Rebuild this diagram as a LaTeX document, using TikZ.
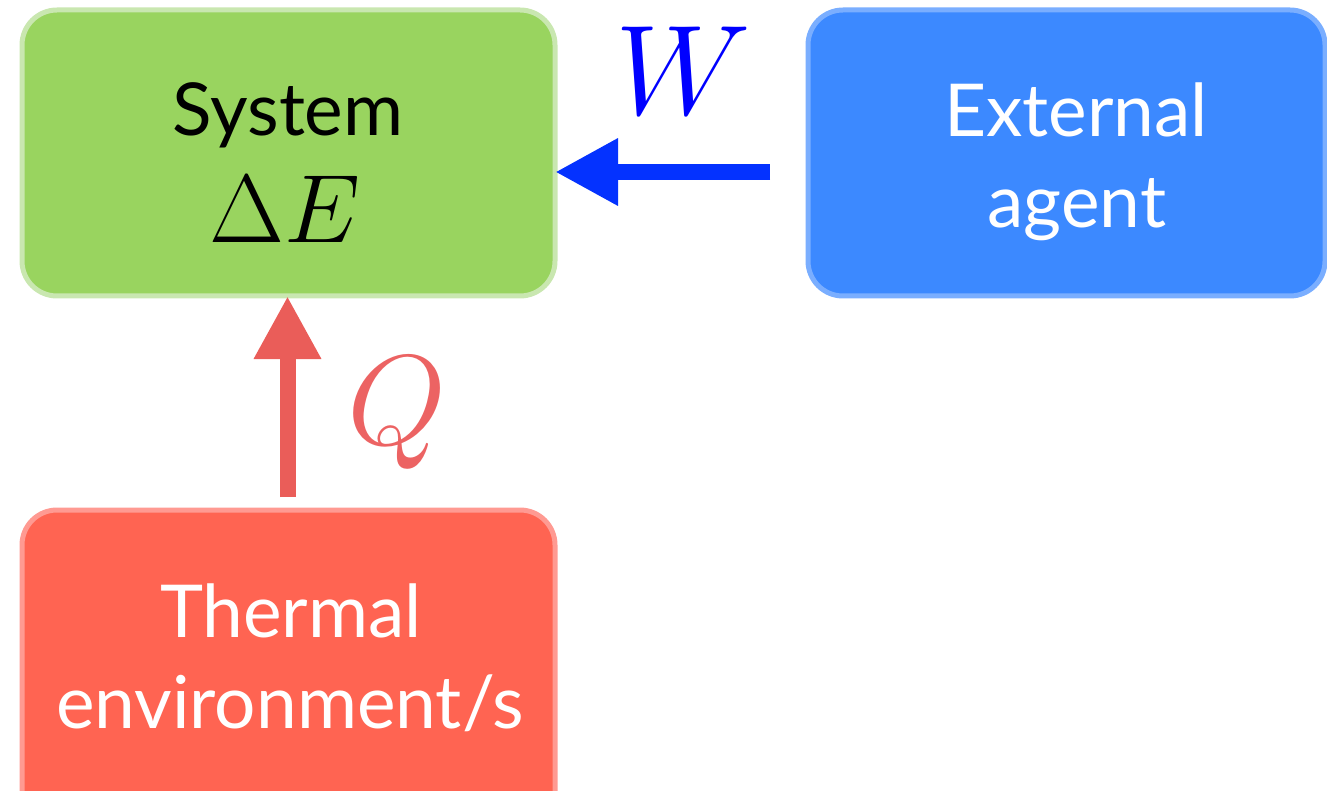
\RequirePackage{fix-cm}
\documentclass[tikz,border=0pt]{standalone}
\usepackage{fontspec}
\setmainfont{Lato}
\usetikzlibrary{arrows.meta}

\definecolor{sysfill}{HTML}{99D45F}
\definecolor{sysedge}{HTML}{C9E7B0}
\definecolor{agfill}{HTML}{3C89FF}
\definecolor{agedge}{HTML}{7AAEFF}
\definecolor{envfill}{HTML}{FF6452}
\definecolor{envedge}{HTML}{FF9A92}
\definecolor{workcol}{HTML}{0432FF}
\definecolor{heatcol}{HTML}{EA5D59}
\definecolor{Wcol}{HTML}{0000FF}
\definecolor{Qcol}{HTML}{EC6363}

\begin{document}
\begin{tikzpicture}[x=1pt,y=-1pt,
  box/.style={rectangle, rounded corners=35pt, line width=5pt, inner sep=0pt,
    outer sep=0pt, minimum height=286pt},
  txt/.style={anchor=base, inner sep=0pt, font=\fontsize{73}{88}\selectfont},
  flow/.style={line width=16pt, -{Triangle[length=63pt,width=63pt]}},
  sym/.style={anchor=base, inner sep=0pt, font=\fontsize{128}{150}\selectfont}]
  \useasboundingbox (0,0) rectangle (1327,791);
  \clip (0,0) rectangle (1327,791);

  % the three blocks
  \node[box, fill=sysfill, draw=sysedge, minimum width=533pt] (sys) at (288.5,153) {};
  \node[box, fill=agfill, draw=agedge, minimum width=517pt] (ag) at (1066.5,153) {};
  \node[box, fill=envfill, draw=envedge, minimum width=533pt, minimum height=330pt] (env) at (288.5,675) {};

  % block labels
  \node[txt] (tsys) at (288,136) {System};
  \node[anchor=base, inner sep=0pt, font=\fontsize{97}{110}\selectfont] (tdE) at (285,243) {$\Delta E$};
  \node[txt, text=white] (text1) at (1076,137) {External};
  \node[txt, text=white] (text2) at (1077,228) {agent};
  \node[txt, text=white] (tenv1) at (291,637) {Thermal};
  \node[txt, text=white] (tenv2) at (290,728) {environment/s};

  % energy flows
  \draw[flow, workcol, shorten <=38pt] ([yshift=-19pt]ag.west) -- ([yshift=-19pt]sys.east);
  \draw[flow, heatcol, shorten <=13pt] ([xshift=-1pt]env.north) -- ([xshift=-1pt]sys.south);
  \node[sym, text=Wcol] (W) at (683,115) {$W$};
  \node[sym, text=Qcol] (Q) at (397,444) {$Q$};
\end{tikzpicture}
\end{document}
